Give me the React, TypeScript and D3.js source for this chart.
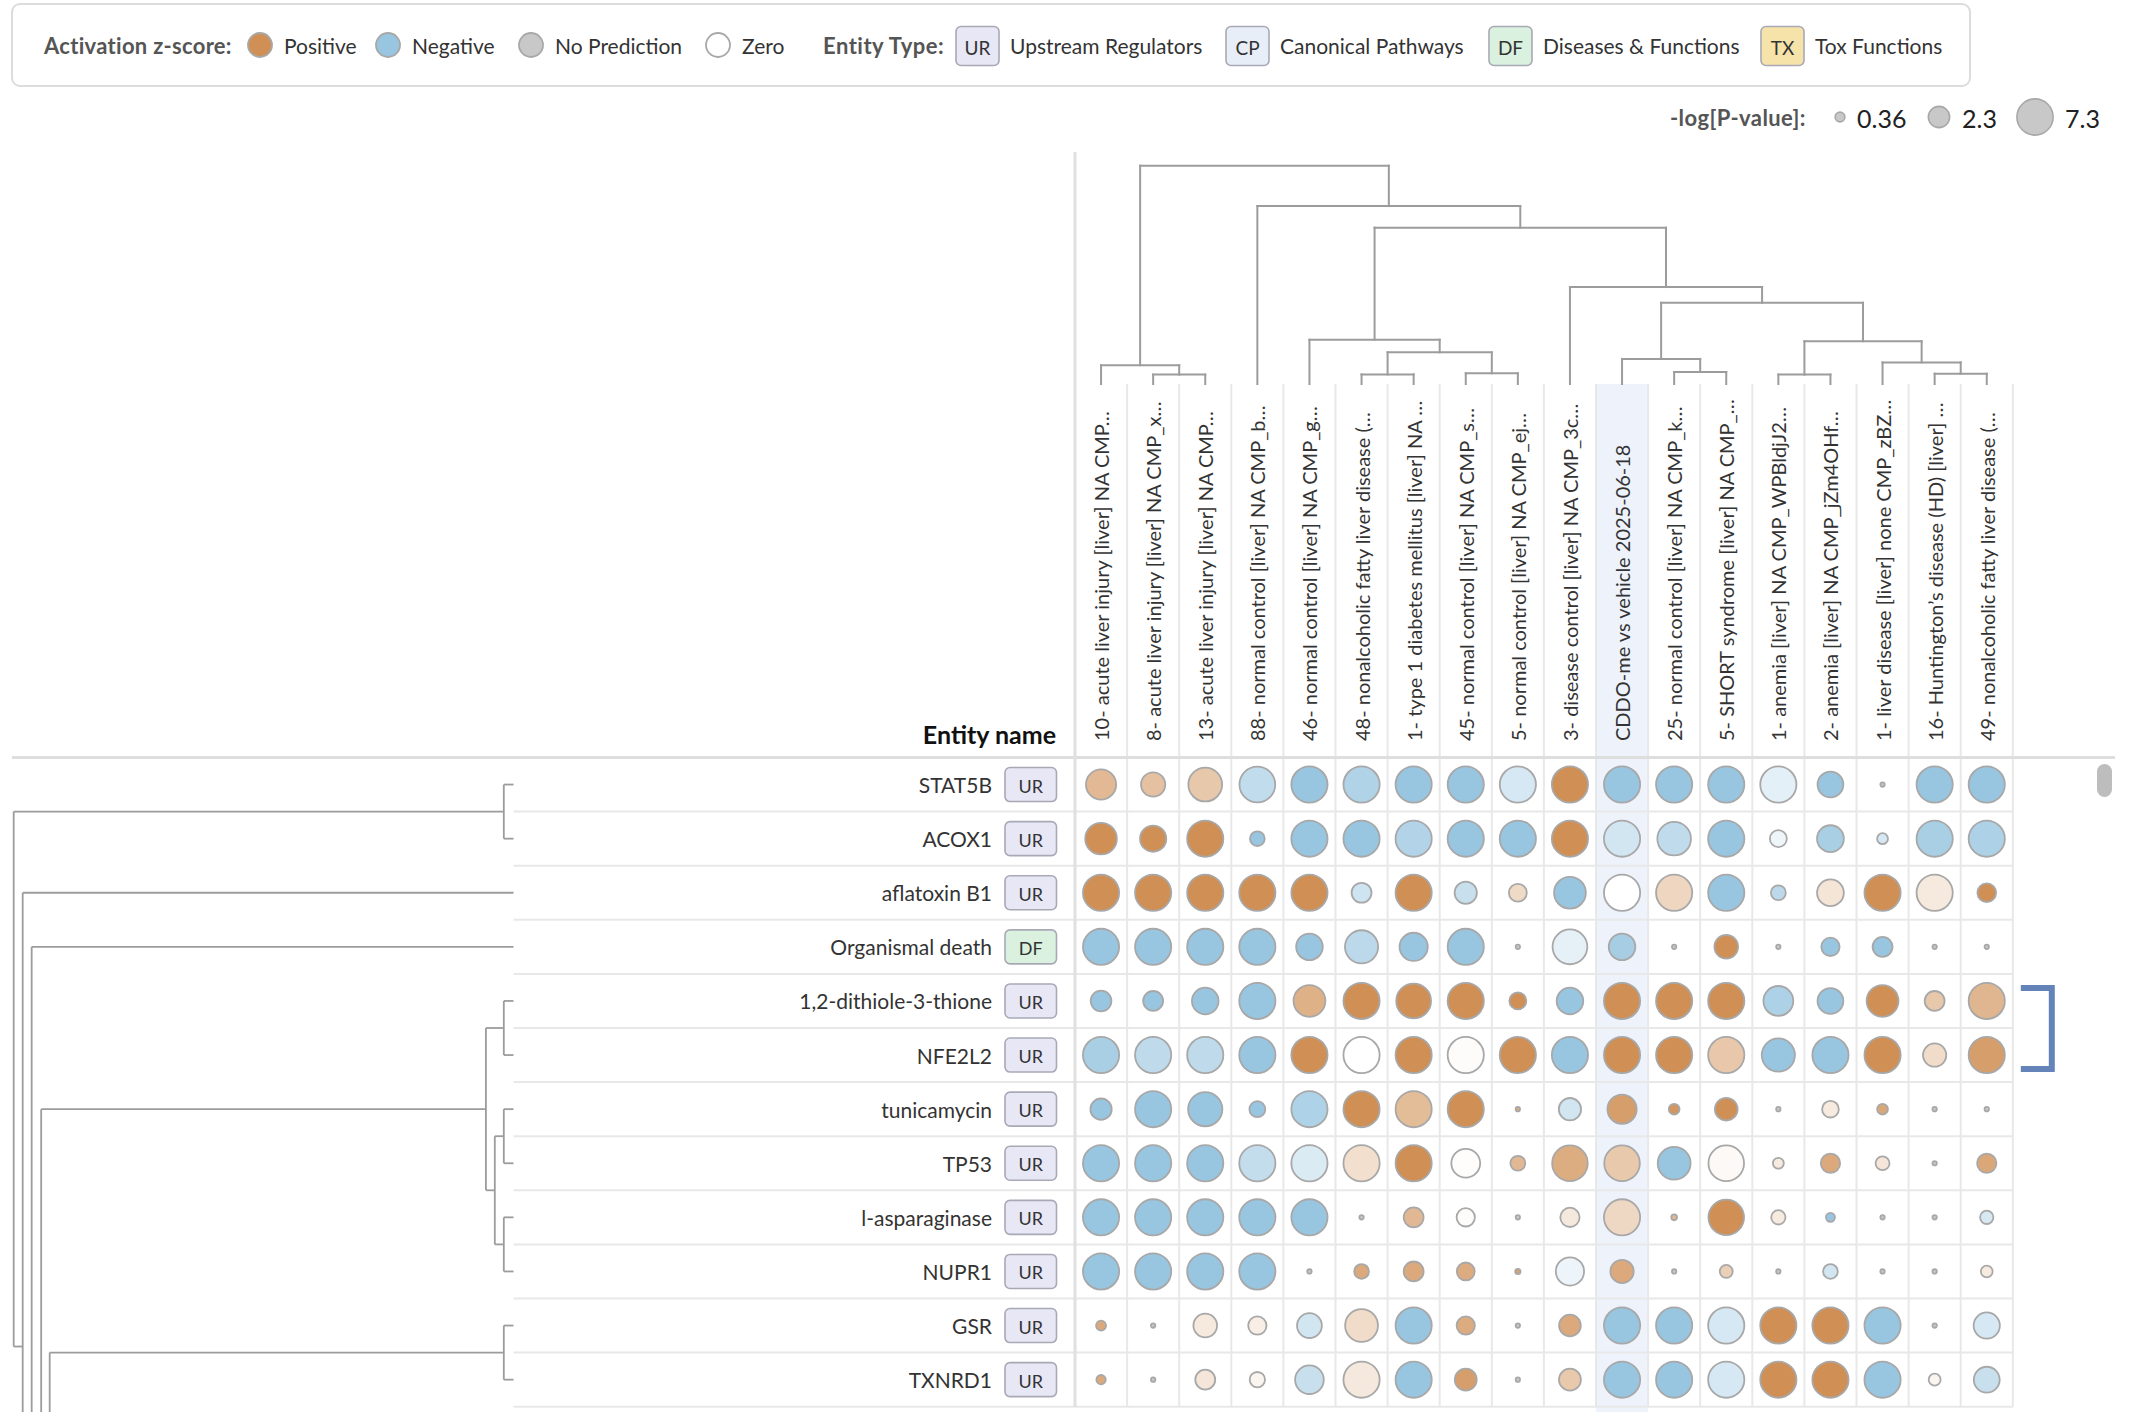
import React from 'react';
import * as d3 from 'd3';

// ---------------- DATA ----------------
const columns = [
  '10- acute liver injury [liver] NA CMP…',
  '8- acute liver injury [liver] NA CMP_x…',
  '13- acute liver injury [liver] NA CMP…',
  '88- normal control [liver] NA CMP_b…',
  '46- normal control [liver] NA CMP_g…',
  '48- nonalcoholic fatty liver disease (…',
  '1- type 1 diabetes mellitus [liver] NA …',
  '45- normal control [liver] NA CMP_s…',
  '5- normal control [liver] NA CMP_ej…',
  '3- disease control [liver] NA CMP_3c…',
  'CDDO-me vs vehicle 2025-06-18',
  '25- normal control [liver] NA CMP_k…',
  '5- SHORT syndrome [liver] NA CMP_…',
  '1- anemia [liver] NA CMP_WPBldjJ2…',
  '2- anemia [liver] NA CMP_jZm4OHf…',
  '1- liver disease [liver] none CMP_zBZ…',
  '16- Huntington’s disease (HD) [liver] …',
  '49- nonalcoholic fatty liver disease (…',
];

const rows = [
  'STAT5B', 'ACOX1', 'aflatoxin B1', 'Organismal death', '1,2-dithiole-3-thione', 'NFE2L2',
  'tunicamycin', 'TP53', 'l-asparaginase', 'NUPR1', 'GSR', 'TXNRD1',
];
const rowTypes = ['UR', 'UR', 'UR', 'DF', 'UR', 'UR', 'UR', 'UR', 'UR', 'UR', 'UR', 'UR'];

// -log(p-value) per cell
const pValues = [
  [4.96, 3.07, 6.31, 7.12, 7.3, 7.3, 7.3, 7.3, 7.3, 7.3, 7.3, 7.3, 7.3, 7.3, 3.53, 0.03, 7.3, 7.3],
  [5.47, 3.65, 7.3, 0.99, 7.3, 7.3, 7.3, 7.3, 7.3, 7.3, 7.3, 6.23, 7.3, 1.37, 3.82, 0.48, 7.3, 7.3],
  [7.3, 7.3, 7.3, 7.3, 7.3, 1.98, 7.3, 2.55, 1.56, 5.54, 7.3, 7.3, 7.3, 1.02, 3.82, 7.3, 7.3, 1.72],
  [7.3, 7.3, 7.3, 7.3, 3.76, 6.07, 4.28, 7.3, 0.03, 6.71, 3.76, 0.03, 2.91, 0.03, 1.64, 1.98, 0.03, 0.03],
  [2.16, 1.98, 3.76, 7.3, 5.54, 7.3, 6.71, 7.3, 1.37, 3.76, 7.3, 7.3, 7.3, 4.83, 3.53, 5.54, 1.98, 7.3],
  [7.3, 7.3, 7.3, 7.3, 7.3, 7.3, 7.3, 7.3, 7.3, 7.3, 7.3, 7.3, 7.3, 6.07, 7.3, 7.3, 2.8, 7.3],
  [2.3, 7.3, 6.47, 1.19, 7.3, 7.3, 7.3, 7.3, 0.03, 2.55, 4.62, 0.46, 2.65, 0.03, 1.33, 0.46, 0.03, 0.03],
  [7.3, 7.3, 7.3, 7.3, 7.3, 7.3, 7.3, 4.48, 1.02, 7.04, 7.04, 5.92, 7.04, 0.48, 1.85, 0.87, 0.03, 1.85],
  [7.3, 7.3, 7.3, 7.3, 7.3, 0.03, 1.98, 1.64, 0.03, 1.85, 7.3, 0.08, 7.04, 0.93, 0.29, 0.03, 0.03, 0.78],
  [7.3, 7.3, 7.3, 7.3, 0.03, 0.99, 1.98, 1.56, 0.06, 4.28, 2.8, 0.03, 0.73, 0.03, 0.99, 0.03, 0.03, 0.58],
  [0.38, 0.03, 2.91, 1.64, 3.24, 5.92, 7.3, 1.64, 0.03, 2.4, 7.3, 7.3, 7.3, 7.3, 7.3, 7.3, 0.03, 3.65],
  [0.32, 0.03, 1.98, 1.09, 4.42, 7.3, 7.3, 2.45, 0.03, 2.45, 7.3, 7.3, 7.3, 7.3, 7.3, 7.3, 0.6, 3.53],
];

// activation z-score per cell (null = no prediction)
const zScores = [
  [1.87, 1.65, 1.47, -1.8, -3, -2.3, -3, -3, -1.2, 3, -3, -3, -3, -0.8, -3, null, -3, -3],
  [3, 3, 3, -3, -3, -3, -2.2, -3, -3, 3, -1.3, -1.86, -3, -0.47, -2.5, -1.2, -2.5, -2.4],
  [3, 3, 3, 3, 3, -1.4, 3, -1.6, 1.0, -3, 0, 1.1, -3, -1.95, 0.7, 3, 0.59, 3],
  [-3, -3, -3, -3, -3, -1.95, -3, -3, null, -0.75, -2.6, null, 3, null, -3, -3, null, null],
  [-3, -3, -3, -3, 2.1, 3, 3, 3, 3, -3, 3, 3, 3, -2.4, -3, 3, 1.47, 1.95],
  [-2.5, -1.9, -1.9, -3, 3, 0, 3, 0.08, 3, -3, 3, 3, 1.5, -3, -3, 3, 0.94, 2.6],
  [-3, -3, -3, -3, -2.35, 3, 1.8, 3, 2.3, -1.3, 2.6, 2.8, 3, null, 0.54, 2.35, null, null],
  [-3, -3, -3, -1.75, -1.05, 0.86, 3, 0.05, 1.9, 2.2, 1.45, -3, 0.16, 0.54, 2.3, 0.67, null, 2.35],
  [-3, -3, -3, -3, -3, null, 1.9, 0.08, null, 0.62, 1.05, 1.9, 3, 0.54, -3, null, null, -1.15],
  [-3, -3, -3, -3, null, 2.3, 2.3, 2.25, 2.5, -0.5, 2.3, null, 1.26, null, -1.3, null, null, 0.54],
  [2.3, null, 0.59, 0.46, -1.3, 0.94, -3, 2.25, null, 2.3, -3, -3, -1.2, 3, 3, -3, null, -1.2],
  [2.3, null, 0.67, 0.27, -1.6, 0.62, -3, 2.6, null, 1.45, -3, -3, -1.2, 3, 3, -3, 0.27, -1.6],
];

// column dendrogram merges (children: column index or merge id), h = relative height
const colMerges = [
  { id: 'P', children: [1, 2], h: 0.043 },
  { id: 'O', children: [0, 'P'], h: 0.086 },
  { id: 'G', children: [5, 6], h: 0.044 },
  { id: 'H', children: [7, 8], h: 0.049 },
  { id: 'F', children: ['G', 'H'], h: 0.145 },
  { id: 'E', children: [4, 'F'], h: 0.203 },
  { id: 'J', children: [11, 12], h: 0.055 },
  { id: 'I', children: [10, 'J'], h: 0.115 },
  { id: 'N', children: [13, 14], h: 0.043 },
  { id: 'M', children: [16, 17], h: 0.047 },
  { id: 'L', children: [15, 'M'], h: 0.099 },
  { id: 'K', children: ['N', 'L'], h: 0.196 },
  { id: 'D', children: ['I', 'K'], h: 0.372 },
  { id: 'C', children: [9, 'D'], h: 0.444 },
  { id: 'B', children: ['E', 'C'], h: 0.716 },
  { id: 'A', children: [3, 'B'], h: 0.815 },
  { id: 'root', children: ['O', 'A'], h: 1.0 },
];

// row dendrogram merges; 115.7 = branch of rows further down the scrolled list
const hiddenBranchRow = 115.7;
const rowMerges = [
  { id: 'a', children: [0, 1], h: 0.0194 },
  { id: 'b', children: [4, 5], h: 0.0194 },
  { id: 'c', children: [6, 7], h: 0.0194 },
  { id: 'd', children: [8, 9], h: 0.0194 },
  { id: 'e', children: ['c', 'd'], h: 0.0374 },
  { id: 'f', children: ['b', 'e'], h: 0.0552 },
  { id: 'g', children: [10, 11], h: 0.0194 },
  { id: 'h', children: ['g', hiddenBranchRow], h: 0.928 },
  { id: 'i', children: ['f', 'h'], h: 0.945 },
  { id: 'j', children: [3, 'i'], h: 0.964 },
  { id: 'k', children: [2, 'j'], h: 0.982 },
  { id: 'root', children: ['a', 'k'], h: 1.0 },
];

const highlightColumn = 10;
const bracketRows = [4, 5];
const sizeLegendValues = [0.36, 2.3, 7.3];
const zLegend = [
  { label: 'Positive', z: 3 },
  { label: 'Negative', z: -3 },
  { label: 'No Prediction', z: null },
  { label: 'Zero', z: 0 },
];
const entityTypes = [
  { code: 'UR', label: 'Upstream Regulators' },
  { code: 'CP', label: 'Canonical Pathways' },
  { code: 'DF', label: 'Diseases & Functions' },
  { code: 'TX', label: 'Tox Functions' },
];

// ---------------- HELPERS ----------------
type Merge = { id: string; children: (number | string)[]; h: number };
function treeSegments(merges: Merge[], leafPos: (i: number) => number) {
  const nodes = new Map<string, { pos: number; h: number }>();
  const get = (c: number | string) =>
    typeof c === 'number' ? { pos: leafPos(c), h: 0 } : nodes.get(c)!;
  const segs: { p1: number; h1: number; p2: number; h2: number }[] = [];
  merges.forEach((m) => {
    const ch = m.children.map(get);
    const pos = d3.mean(ch, (c) => c.pos) as number;
    nodes.set(m.id, { pos, h: m.h });
    ch.forEach((c) => segs.push({ p1: c.pos, h1: c.h, p2: c.pos, h2: m.h }));
    segs.push({ p1: ch[0].pos, h1: m.h, p2: ch[ch.length - 1].pos, h2: m.h });
  });
  return segs;
}

const FONT = "Lato, 'Open Sans', 'DejaVu Sans', sans-serif";
const badgeFill: Record<string, string> = {
  UR: '#e7e7f6',
  CP: '#e8eef8',
  DF: '#d9f1de',
  TX: '#f6e3a9',
};
const NO_PRED = '#c8c8c8';
const STROKE = '#a8a8a8';

export default function App() {
  const W = 2136;
  const H = 1421;
  const colLeft = 1075;
  const colW = 52.1;
  const rowTop = 757.5;
  const rowH = 54.1;
  const labelTop = 384;
  const treeTop = 165.7;
  const leafX = 513.5;
  const rootX = 13.7;
  const gridRight = colLeft + columns.length * colW;
  const gridBottom = rowTop + rows.length * rowH;
  const clipBottom = 1412;

  const xBand = d3.scaleBand<number>().domain(d3.range(columns.length)).range([colLeft, gridRight]);
  const colCenter = (i: number) => (xBand(i) as number) + xBand.bandwidth() / 2;
  const rowLin = d3.scaleLinear().domain([0, rows.length]).range([rowTop, gridBottom]);
  const rowCenter = (i: number) => rowLin(i + 0.5);

  const color = d3
    .scaleLinear<string>()
    .domain([-3, 0, 3])
    .range(['#98c5e0', '#ffffff', '#d08f54'])
    .interpolate(d3.interpolateRgb)
    .clamp(true);
  const fillFor = (z: number | null) => (z === null ? NO_PRED : color(z));
  const rScale = d3.scaleSqrt().domain([0, 7.3]).range([1.1, 18.1]).clamp(true);

  const colTreeY = d3.scaleLinear().domain([0, 1]).range([labelTop, treeTop]);
  const rowTreeX = d3.scaleLinear().domain([0, 1]).range([leafX, rootX]);

  const colSegs = treeSegments(colMerges as Merge[], colCenter);
  const rowSegs = treeSegments(rowMerges as Merge[], rowCenter);

  // legend layout
  const legY = 45;
  const zCircleX = [260, 388, 531, 718];
  const badgeX = [956, 1226, 1489, 1761];
  const sizeX = [1840, 1939, 2035];
  const sizeLabelX = [1857, 1962, 2065];

  const Badge = ({ x, cy, w, h, code, fs }: any) => (
    <g>
      <rect x={x} y={cy - h / 2} width={w} height={h} rx={5} fill={badgeFill[code]} stroke="#a9a9b6" strokeWidth={1.6} />
      <text x={x + w / 2} y={cy + 1} textAnchor="middle" dominantBaseline="central" fontSize={fs} fill="#333">
        {code}
      </text>
    </g>
  );

  const bTop = rowCenter(bracketRows[0]) - 13;
  const bBot = rowCenter(bracketRows[bracketRows.length - 1]) + 14;

  return (
    <svg
      width={W}
      height={H}
      style={{ position: 'absolute', left: 0, top: 0, background: '#fff' }}
      fontFamily={FONT}
    >
      <defs>
        <clipPath id="bodyClip">
          <rect x={0} y={rowTop - 1} width={W} height={clipBottom - rowTop + 1} />
        </clipPath>
      </defs>
      <rect x={0} y={0} width={W} height={H} fill="#fff" />

      {/* legend box */}
      <rect x={12} y={4} width={1958} height={82} rx={8} fill="#fff" stroke="#dcdcdc" strokeWidth={2} />
      <text x={44} y={legY} dominantBaseline="central" fontSize={22} fontWeight={700} fill="#555" letterSpacing={0.3}>
        Activation z-score:
      </text>
      {zLegend.map((d, i) => (
        <g key={d.label}>
          <circle cx={zCircleX[i]} cy={legY} r={12} fill={fillFor(d.z)} stroke={STROKE} strokeWidth={1.8} />
          <text x={zCircleX[i] + 24} y={legY} dominantBaseline="central" fontSize={21} fill="#333">
            {d.label}
          </text>
        </g>
      ))}
      <text x={823} y={legY} dominantBaseline="central" fontSize={22} fontWeight={700} fill="#555" letterSpacing={0.5}>
        Entity Type:
      </text>
      {entityTypes.map((d, i) => (
        <g key={d.code}>
          <Badge x={badgeX[i]} cy={legY + 1} w={43} h={39} code={d.code} fs={19} />
          <text x={badgeX[i] + 54} y={legY} dominantBaseline="central" fontSize={21} fill="#333">
            {d.label}
          </text>
        </g>
      ))}

      {/* size legend */}
      <text x={1670} y={117} dominantBaseline="central" fontSize={22} fontWeight={700} fill="#555" letterSpacing={0.4}>
        -log[P-value]:
      </text>
      {sizeLegendValues.map((v, i) => (
        <g key={v}>
          <circle cx={sizeX[i]} cy={117} r={rScale(v)} fill={NO_PRED} stroke={STROKE} strokeWidth={1.6} />
          <text x={sizeLabelX[i]} y={118} dominantBaseline="central" fontSize={25} fill="#222">
            {v}
          </text>
        </g>
      ))}

      {/* highlighted column background */}
      <rect
        x={xBand(highlightColumn)}
        y={labelTop}
        width={xBand.bandwidth()}
        height={clipBottom - labelTop}
        fill="#edf2fb"
      />

      {/* column separators in label area and grid */}
      {d3.range(1, columns.length + 1).map((i) => (
        <line
          key={'cs' + i}
          x1={colLeft + i * colW}
          x2={colLeft + i * colW}
          y1={labelTop}
          y2={gridBottom}
          stroke="#e8e8e8"
          strokeWidth={2}
        />
      ))}
      {/* row separators */}
      {d3.range(1, rows.length + 1).map((i) => (
        <line
          key={'rs' + i}
          x1={leafX}
          x2={gridRight}
          y1={rowLin(i)}
          y2={rowLin(i)}
          stroke="#e8e8e8"
          strokeWidth={2}
        />
      ))}
      {/* header bottom line */}
      <line x1={12} x2={2115} y1={rowTop} y2={rowTop} stroke="#dedede" strokeWidth={3} />
      {/* grid left border */}
      <line x1={colLeft} x2={colLeft} y1={152} y2={gridBottom} stroke="#e0e0e0" strokeWidth={3} />

      {/* column dendrogram */}
      <g stroke="#9c9c9c" strokeWidth={2} fill="none" strokeLinecap="square">
        {colSegs.map((s, i) => (
          <line key={'cd' + i} x1={s.p1} x2={s.p2} y1={colTreeY(s.h1)} y2={colTreeY(s.h2)} />
        ))}
      </g>

      {/* column labels */}
      {columns.map((c, i) => (
        <text
          key={'cl' + i}
          transform={`translate(${colCenter(i)},741) rotate(-90)`}
          dominantBaseline="central"
          fontSize={20}
          fill="#333"
        >
          {c}
        </text>
      ))}

      {/* entity name header */}
      <text x={1056} y={734} textAnchor="end" dominantBaseline="central" fontSize={25} fontWeight={700} fill="#111">
        Entity name
      </text>

      <g clipPath="url(#bodyClip)">
        {/* row dendrogram */}
        <g stroke="#9c9c9c" strokeWidth={1.8} fill="none">
          {rowSegs.map((s, i) => (
            <line key={'rd' + i} x1={rowTreeX(s.h1)} x2={rowTreeX(s.h2)} y1={s.p1} y2={s.p2} />
          ))}
        </g>

        {/* row labels and badges */}
        {rows.map((r, i) => (
          <g key={'rl' + i}>
            <text x={992} y={rowCenter(i)} textAnchor="end" dominantBaseline="central" fontSize={21} fill="#333">
              {r}
            </text>
            <Badge x={1005} cy={rowCenter(i)} w={51.5} h={34} code={rowTypes[i]} fs={18} />
          </g>
        ))}

        {/* bubbles */}
        {pValues.map((row, ri) =>
          row.map((v, ci) => (
            <circle
              key={`b${ri}-${ci}`}
              cx={colCenter(ci)}
              cy={rowCenter(ri)}
              r={rScale(v)}
              fill={fillFor(zScores[ri][ci])}
              stroke={STROKE}
              strokeWidth={1.8}
            />
          ))
        )}
      </g>

      {/* selection bracket */}
      <path
        d={`M${gridRight + 8},${bTop} H${gridRight + 39} V${bBot} H${gridRight + 8}`}
        fill="none"
        stroke="#6383b9"
        strokeWidth={6}
      />

      {/* scrollbar thumb */}
      <rect x={2097} y={764} width={15} height={33} rx={7.5} fill="#bdbdbd" />
    </svg>
  );
}
